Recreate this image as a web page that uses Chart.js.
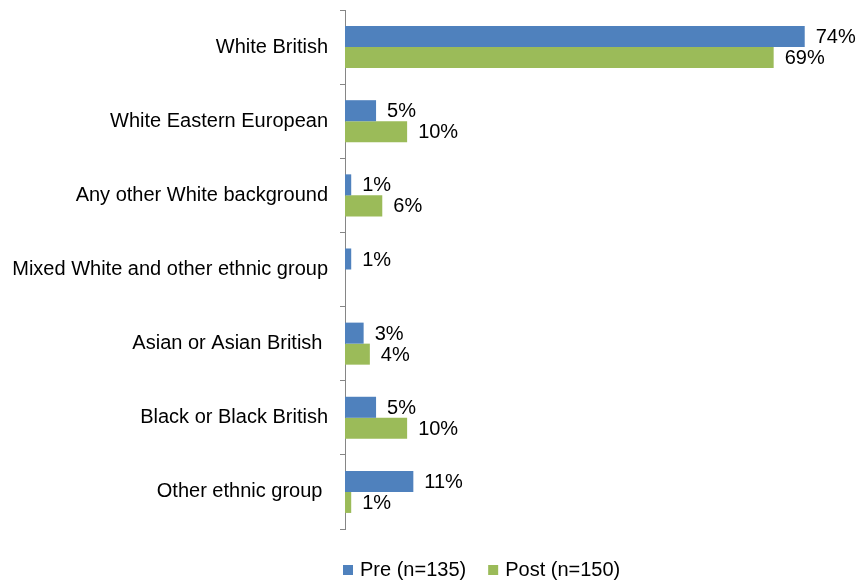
<!DOCTYPE html>
<html>
<head>
<meta charset="utf-8">
<script src="https://cdn.jsdelivr.net/npm/chart.js@4/dist/chart.umd.min.js"></script>
<style>
html,body{margin:0;padding:0;background:#fff;}
#wrap{width:859px;height:582px;position:relative;}
</style>
</head>
<body>
<div id="wrap"><canvas id="c" width="859" height="582"></canvas></div>
<script>
const categories = [
  "White British",
  "White Eastern European",
  "Any other White background",
  "Mixed White and other ethnic group",
  "Asian or Asian British ",
  "Black or Black British",
  "Other ethnic group "
];
const preValues = [74, 5, 1, 1, 3, 5, 11];
const postValues = [69, 10, 6, 0, 4, 10, 1];
const seriesNames = ["Pre (n=135)", "Post (n=150)"];
const seriesColors = ["#4F81BD", "#9BBB59"];
const xMin = 0, xMax = 80;

const FONT = '"Liberation Sans", Arial, sans-serif';

const labelPlugin = {
  id: 'barLabels',
  afterDatasetsDraw(chart) {
    const ctx = chart.ctx;
    ctx.save();
    ctx.font = '20px ' + FONT;
    ctx.fillStyle = '#000';
    ctx.textAlign = 'left';
    ctx.textBaseline = 'middle';
    chart.data.datasets.forEach((ds, i) => {
      const meta = chart.getDatasetMeta(i);
      meta.data.forEach((bar, j) => {
        const v = ds.data[j];
        if (!v) return;
        ctx.fillText(v + '%', bar.x + 11, bar.y + 1);
      });
    });
    ctx.restore();
  }
};

const legendPlugin = {
  id: 'customLegend',
  afterDraw(chart) {
    const ctx = chart.ctx;
    ctx.save();
    ctx.font = '20px ' + FONT;
    ctx.textAlign = 'left';
    ctx.textBaseline = 'middle';
    let x = 343;
    const y = 570;
    chart.data.datasets.forEach((ds, i) => {
      ctx.fillStyle = ds.backgroundColor;
      ctx.fillRect(x, y - 5, 10, 10);
      x += 17;
      ctx.fillStyle = '#000';
      ctx.fillText(ds.label, x, y);
      x += ctx.measureText(ds.label).width + 22;
    });
    ctx.restore();
  }
};

new Chart(document.getElementById('c'), {
  type: 'bar',
  data: {
    labels: categories,
    datasets: [
      { label: seriesNames[0], data: preValues, backgroundColor: seriesColors[0], categoryPercentage: 0.567, barPercentage: 1 },
      { label: seriesNames[1], data: postValues, backgroundColor: seriesColors[1], categoryPercentage: 0.567, barPercentage: 1 }
    ]
  },
  options: {
    indexAxis: 'y',
    responsive: false,
    animation: false,
    devicePixelRatio: 1,
    layout: { padding: { top: 10, right: 17, bottom: 53, left: 0 } },
    scales: {
      x: { display: false, min: xMin, max: xMax },
      y: {
        afterFit(s) { s.width = 345; s.paddingTop = 0; s.paddingBottom = 0; },
        grid: { drawOnChartArea: false, drawTicks: true, tickLength: 5, color: '#868686', offset: true },
        border: { display: true, color: '#868686', width: 1 },
        ticks: { color: '#000', font: { family: FONT, size: 20 }, padding: 12, autoSkip: false }
      }
    },
    plugins: {
      legend: { display: false },
      tooltip: { enabled: false }
    }
  },
  plugins: [labelPlugin, legendPlugin]
});
</script>
</body>
</html>
